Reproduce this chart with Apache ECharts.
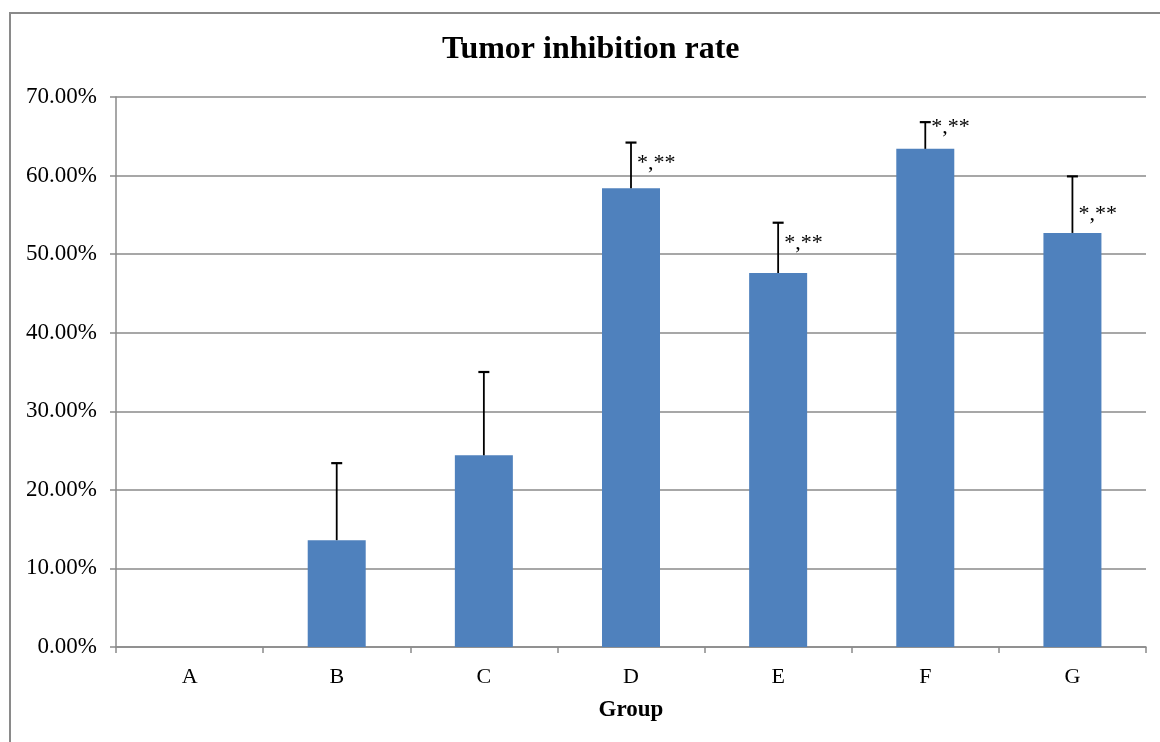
<!DOCTYPE html>
<html>
<head>
<meta charset="utf-8">
<script src="https://cdn.jsdelivr.net/npm/echarts@6/dist/echarts.min.js"></script>
<style>
html,body{margin:0;padding:0;background:#fff;}
#chart{width:1160px;height:742px;}
</style>
</head>
<body>
<div id="chart"></div>
<script>
// ---- data ----
const categories = ['A', 'B', 'C', 'D', 'E', 'F', 'G'];
const rates = [0, 13.6, 24.4, 58.4, 47.6, 63.4, 52.7];          // %
const errors = [0, 9.8, 10.6, 5.8, 6.4, 3.4, 7.2];              // % (upper SD)
const sigLabels = ['', '', '', '*,**', '*,**', '*,**', '*,**'];
const sigLabelY = [null, null, null, 61.8, 51.7, 66.4, 55.3];   // % (label anchor)
const yTicks = [0, 10, 20, 30, 40, 50, 60, 70];

const FONT = '"Liberation Serif", "Times New Roman", serif';
const GRAY = '#8a8a8a';

const chart = echarts.init(document.getElementById('chart'), null, {renderer: 'canvas'});

const errData = categories.map((c, i) => [i, rates[i], errors[i]]).filter(d => d[2] > 0);
const sigData = categories.map((c, i) => [i, sigLabelY[i], i]).filter(d => d[1] != null);

chart.setOption({
  backgroundColor: '#fff',
  animation: false,
  graphic: [{
    type: 'rect',
    shape: {x: 10, y: 13, width: 1200, height: 800},
    style: {fill: 'none', stroke: GRAY, lineWidth: 2},
    silent: true
  }],
  title: {
    text: 'Tumor inhibition rate',
    left: 442,
    top: 34,
    padding: 0,
    textStyle: {fontFamily: FONT, fontSize: 32, fontWeight: 'bold', color: '#000'}
  },
  grid: {left: 116, right: 14, top: 97, bottom: 95, containLabel: false},
  xAxis: {
    type: 'category',
    data: categories,
    name: 'Group',
    nameLocation: 'middle',
    nameGap: 52,
    nameTextStyle: {fontFamily: FONT, fontSize: 23, fontWeight: 'bold', color: '#000'},
    axisLine: {lineStyle: {color: GRAY, width: 1.5}},
    axisTick: {show: true, length: 6, inside: false, lineStyle: {color: GRAY, width: 1.5}},
    axisLabel: {fontFamily: FONT, fontSize: 22, color: '#000', margin: 19},
    splitLine: {show: false}
  },
  yAxis: {
    type: 'value',
    min: 0,
    max: 70,
    interval: 10,
    axisLine: {show: true, lineStyle: {color: GRAY, width: 1.5}},
    axisTick: {show: true, length: 6, inside: false, lineStyle: {color: GRAY, width: 1.5}},
    axisLabel: {
      fontFamily: FONT, fontSize: 23, color: '#000', margin: 19,
      formatter: v => (yTicks.indexOf(v) >= 0 ? v.toFixed(2) + '%' : '')
    },
    splitLine: {show: true, lineStyle: {color: GRAY, width: 1.5}}
  },
  series: [
    {
      type: 'bar',
      data: rates,
      barWidth: 58,
      itemStyle: {color: '#4f81bd'},
      z: 2
    },
    {
      type: 'custom',
      data: errData,
      z: 3,
      clip: false,
      renderItem: function (params, api) {
        const x = api.value(0), v = api.value(1), e = api.value(2);
        const base = api.coord([x, v]);
        const top = api.coord([x, v + e]);
        return {
          type: 'group',
          children: [
            {type: 'line', shape: {x1: base[0], y1: base[1], x2: top[0], y2: top[1]},
             style: {stroke: '#000', lineWidth: 1.8}},
            {type: 'line', shape: {x1: top[0] - 5.5, y1: top[1], x2: top[0] + 5.5, y2: top[1]},
             style: {stroke: '#000', lineWidth: 2.2}}
          ]
        };
      }
    },
    {
      type: 'custom',
      data: sigData,
      z: 4,
      clip: false,
      renderItem: function (params, api) {
        const x = api.value(0), y = api.value(1);
        const p = api.coord([x, y]);
        const idx = sigData[params.dataIndex][2];
        return {
          type: 'text',
          x: p[0] + 6,
          y: p[1] + 2,
          style: {
            text: sigLabels[idx],
            font: '22px ' + FONT,
            fill: '#000',
            align: 'left',
            verticalAlign: 'middle'
          }
        };
      }
    }
  ]
});
</script>
</body>
</html>
